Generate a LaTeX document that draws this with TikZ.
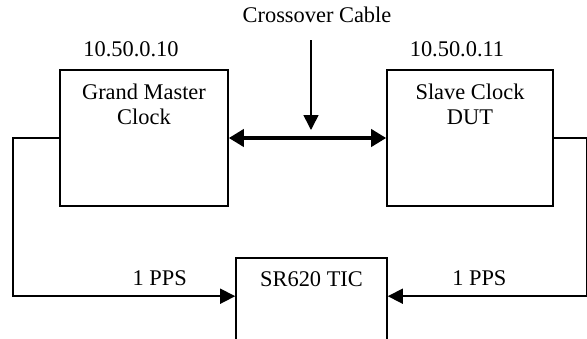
\documentclass[tikz,border=0pt]{standalone}
\usepackage{fontspec}
\setmainfont{Liberation Serif}
\usetikzlibrary{arrows.meta}
\begin{document}
\begin{tikzpicture}[x=1pt,y=-1pt,
        every node/.style={font=\fontsize{22.4}{25}\selectfont},
        box/.style={draw, line width=1.6pt, inner sep=0pt},
        boxtitle/.style={anchor=north, align=center, inner sep=0pt, yshift=-14.5pt},
        addr/.style={anchor=south, inner sep=0pt, xshift=-13pt, yshift=12pt},
        pps/.style={above, inner sep=0pt, yshift=10pt},
        sig/.style={line width=1.6pt, -{Triangle[length=15pt,width=15pt]}},
        thickcable/.style={line width=4.2pt, {Triangle[length=15pt,width=17pt]}-{Triangle[length=15pt,width=17pt]}}]
        \useasboundingbox (0,0) rectangle (587,338);
        \clip (0,0) rectangle (587,338);
        \node[box, minimum width=168pt, minimum height=136pt,
            label={[boxtitle, name=gmtext]north:Grand Master\\Clock},
            label={[addr, name=gmaddr]north:10.50.0.10}] (gm) at (144,138) {};
        \node[box, minimum width=166pt, minimum height=136pt,
            label={[boxtitle, name=sltext]north:Slave Clock\\DUT},
            label={[addr, name=sladdr]north:10.50.0.11}] (sl) at (470,138) {};
        \node[box, minimum width=151pt, minimum height=160pt,
            label={[boxtitle, name=tictext]north:SR620 TIC}] (tic) at (311.5,338) {};
        \node (cable) at (317,14.5) {Crossover Cable};
        \coordinate (drop) at (311,40);
        \coordinate (droptip) at (311,130);
        \draw[sig] (drop) -- (droptip);
        \draw[thickcable] (gm.east) -- (sl.west);
        \draw[sig] (gm.west) -- ++(-46,0) |- node[pps, pos=0.83] (ppsleft) {1 PPS} ([yshift=-39pt]tic.north west);
        \draw[sig] (sl.east) -- ++(33,0) |- node[pps, pos=0.77] (ppsright) {1 PPS} ([yshift=-39pt]tic.north east);
    \end{tikzpicture}
\end{document}
